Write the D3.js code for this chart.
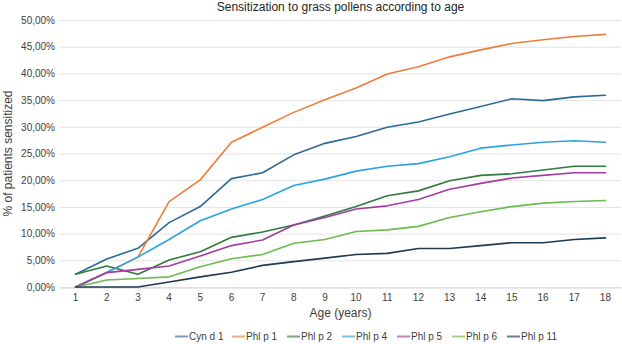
<!DOCTYPE html>
<html>
<head>
<meta charset="utf-8">
<script src="https://cdnjs.cloudflare.com/ajax/libs/d3/7.8.5/d3.min.js"></script>
<style>
  html, body { margin: 0; padding: 0; background: #ffffff; }
  svg { display: block; font-family: "Liberation Sans", Arial, sans-serif; }
</style>
</head>
<body>
<svg id="chart" width="622" height="344"></svg>
<script>
// Ages on the category axis
const ages = [1, 2, 3, 4, 5, 6, 7, 8, 9, 10, 11, 12, 13, 14, 15, 16, 17, 18];

// Allergen component names, in drawing order
const seriesNames = ["Cyn d 1", "Phl p 1", "Phl p 2", "Phl p 4", "Phl p 5", "Phl p 6", "Phl p 11"];

// Share of sensitized patients per age (fraction)
const cynd1  = [0.024, 0.0525, 0.0725, 0.1206, 0.1506, 0.2030, 0.2140, 0.2475, 0.2690, 0.2820, 0.2990, 0.3090, 0.3240, 0.3380, 0.3525, 0.3490, 0.3560, 0.3590];
const phlp1  = [0.000, 0.0270, 0.0560, 0.1600, 0.2006, 0.2710, 0.2990, 0.3270, 0.3506, 0.3725, 0.3990, 0.4125, 0.4310, 0.4440, 0.4560, 0.4630, 0.4690, 0.4730];
const phlp2  = [0.024, 0.0394, 0.0240, 0.0506, 0.0660, 0.0930, 0.1030, 0.1160, 0.1330, 0.1506, 0.1710, 0.1800, 0.1990, 0.2090, 0.2120, 0.2190, 0.2260, 0.2260];
const phlp4  = [0.000, 0.0270, 0.0560, 0.0890, 0.1240, 0.1460, 0.1640, 0.1900, 0.2020, 0.2170, 0.2260, 0.2310, 0.2440, 0.2600, 0.2660, 0.2710, 0.2740, 0.2710];
const phlp5  = [0.000, 0.0270, 0.0330, 0.0394, 0.0580, 0.0775, 0.0880, 0.1160, 0.1300, 0.1460, 0.1520, 0.1640, 0.1830, 0.1940, 0.2040, 0.2090, 0.2140, 0.2140];
const phlp6  = [0.000, 0.0130, 0.0160, 0.0190, 0.0380, 0.0530, 0.0610, 0.0820, 0.0890, 0.1040, 0.1070, 0.1135, 0.1300, 0.1410, 0.1506, 0.1570, 0.1600, 0.1620];
const phlp11 = [0.000, 0.000, 0.000, 0.0094, 0.0190, 0.0275, 0.0405, 0.0475, 0.0540, 0.0610, 0.0630, 0.0720, 0.0720, 0.0775, 0.0830, 0.0830, 0.0890, 0.0920];

// Percent tick values on the value axis
const yTicks = [0, 0.05, 0.10, 0.15, 0.20, 0.25, 0.30, 0.35, 0.40, 0.45, 0.50];

const seriesValues = [cynd1, phlp1, phlp2, phlp4, phlp5, phlp6, phlp11];
const colors = ["#2d6a94", "#f07c3b", "#2f7a3c", "#2ba3e3", "#a23ca2", "#6bbb4f", "#1c3a52"];

const svg = d3.select("#chart");
const plot = { left: 60, right: 621, top: 20, bottom: 287 };

const x = d3.scaleBand().domain(ages).range([plot.left, plot.right]);
const cx = a => x(a) + x.bandwidth() / 2;
const y = d3.scaleLinear().domain([0, 0.5]).range([plot.bottom, plot.top]);

// Comma decimal separator, e.g. "25,00%"
const locale = d3.formatLocale({ decimal: ",", thousands: ".", grouping: [3], currency: ["", " €"] });
const pct = locale.format(".2%");

// Horizontal gridlines
svg.append("g")
  .selectAll("line")
  .data(yTicks)
  .join("line")
  .attr("x1", plot.left).attr("x2", plot.right)
  .attr("y1", d => y(d) + 0.5).attr("y2", d => y(d) + 0.5)
  .attr("stroke", "#e3e3e3")
  .attr("stroke-width", 1);

// Value axis labels
const yAxis = d3.axisLeft(y).tickValues(yTicks).tickFormat(pct).tickSize(0).tickPadding(5);
svg.append("g")
  .attr("transform", `translate(${plot.left},0)`)
  .call(yAxis)
  .call(g => g.select(".domain").remove())
  .call(g => g.selectAll("text")
    .attr("font-size", 10)
    .attr("fill", "#404040")
    .attr("font-family", "'Liberation Sans', Arial, sans-serif"));

// Category axis
const xAxis = d3.axisBottom(x).tickSize(0).tickPadding(6);
svg.append("g")
  .attr("transform", `translate(0,${plot.bottom + 0.5})`)
  .call(xAxis)
  .call(g => g.select(".domain").attr("stroke", "#d6d6d6"))
  .call(g => g.selectAll("text")
    .attr("font-size", 10)
    .attr("fill", "#404040")
    .attr("font-family", "'Liberation Sans', Arial, sans-serif"));

// Series lines
const line = d3.line()
  .x((d, i) => cx(ages[i]))
  .y(d => y(d));

svg.append("g")
  .selectAll("path")
  .data(seriesValues)
  .join("path")
  .attr("d", d => line(d))
  .attr("fill", "none")
  .attr("stroke", (d, i) => colors[i])
  .attr("stroke-width", 1.6)
  .attr("stroke-linejoin", "round")
  .attr("stroke-linecap", "round");

// Title
svg.append("text")
  .attr("x", (plot.left + plot.right) / 2)
  .attr("y", 11)
  .attr("text-anchor", "middle")
  .attr("font-size", 12)
  .attr("fill", "#262626")
  .text("Sensitization to grass pollens according to age");

// Axis titles
svg.append("text")
  .attr("transform", `translate(12,${(plot.top + plot.bottom) / 2}) rotate(-90)`)
  .attr("text-anchor", "middle")
  .attr("font-size", 12)
  .attr("fill", "#404040")
  .text("% of patients sensitized");

svg.append("text")
  .attr("x", (plot.left + plot.right) / 2)
  .attr("y", 317)
  .attr("text-anchor", "middle")
  .attr("font-size", 12)
  .attr("fill", "#404040")
  .text("Age (years)");

// Legend
const legendX = [175, 232, 287, 342, 397, 452, 507];
const legend = svg.append("g")
  .selectAll("g")
  .data(seriesNames)
  .join("g")
  .attr("transform", (d, i) => `translate(${legendX[i]},336.5)`);

legend.append("line")
  .attr("x1", 0).attr("x2", 13)
  .attr("stroke", (d, i) => colors[i])
  .attr("stroke-opacity", 0.65)
  .attr("stroke-width", 2);

legend.append("text")
  .attr("x", 14)
  .attr("y", 3.5)
  .attr("font-size", 10)
  .attr("fill", "#404040")
  .text(d => d);
</script>
</body>
</html>
